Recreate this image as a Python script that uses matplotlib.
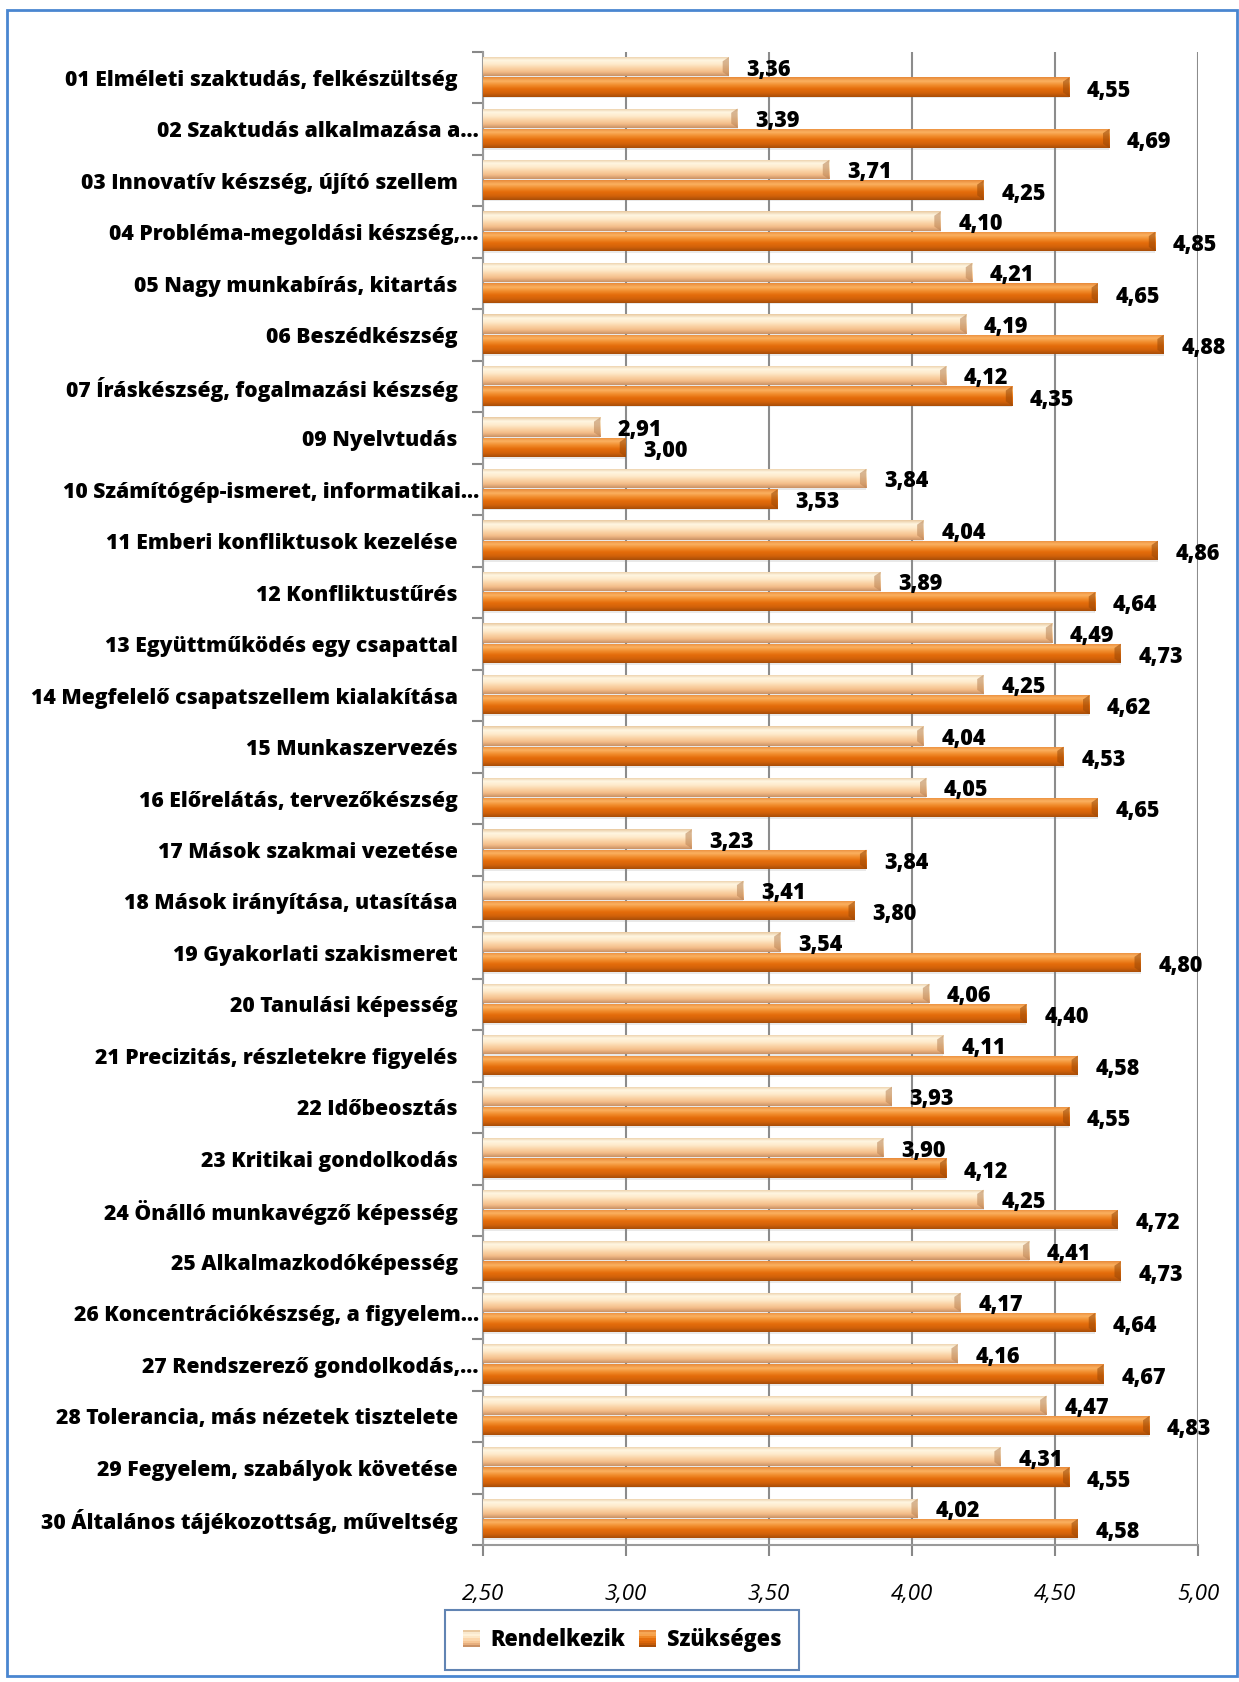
import numpy as np
import matplotlib.pyplot as plt
from matplotlib.colors import LinearSegmentedColormap
from matplotlib.patches import Rectangle, Polygon
from matplotlib.legend_handler import HandlerPatch
from matplotlib.transforms import ScaledTranslation

plt.rcParams['font.family'] = ['Open Sans', 'DejaVu Sans']

categories = [
    "01 Elméleti szaktudás, felkészültség",
    "02 Szaktudás alkalmazása a…",
    "03 Innovatív készség, újító szellem",
    "04 Probléma-megoldási készség,…",
    "05 Nagy munkabírás, kitartás",
    "06 Beszédkészség",
    "07 Íráskészség, fogalmazási készség",
    "09 Nyelvtudás",
    "10 Számítógép-ismeret, informatikai…",
    "11 Emberi konfliktusok kezelése",
    "12 Konfliktustűrés",
    "13 Együttműködés egy csapattal",
    "14 Megfelelő csapatszellem kialakítása",
    "15 Munkaszervezés",
    "16 Előrelátás, tervezőkészség",
    "17 Mások szakmai vezetése",
    "18 Mások irányítása, utasítása",
    "19 Gyakorlati szakismeret",
    "20 Tanulási képesség",
    "21 Precizitás, részletekre figyelés",
    "22 Időbeosztás",
    "23 Kritikai gondolkodás",
    "24 Önálló munkavégző képesség",
    "25 Alkalmazkodóképesség",
    "26 Koncentrációkészség, a figyelem…",
    "27 Rendszerező gondolkodás,…",
    "28 Tolerancia, más nézetek tisztelete",
    "29 Fegyelem, szabályok követése",
    "30 Általános tájékozottság, műveltség",
]
rendelkezik = [3.36, 3.39, 3.71, 4.10, 4.21, 4.19, 4.12, 2.91, 3.84, 4.04,
               3.89, 4.49, 4.25, 4.04, 4.05, 3.23, 3.41, 3.54, 4.06, 4.11,
               3.93, 3.90, 4.25, 4.41, 4.17, 4.16, 4.47, 4.31, 4.02]
szukseges = [4.55, 4.69, 4.25, 4.85, 4.65, 4.88, 4.35, 3.00, 3.53, 4.86,
             4.64, 4.73, 4.62, 4.53, 4.65, 3.84, 3.80, 4.80, 4.40, 4.58,
             4.55, 4.12, 4.72, 4.73, 4.64, 4.67, 4.83, 4.55, 4.58]
xticks = [2.5, 3.0, 3.5, 4.0, 4.5, 5.0]

light_cols = ['#E9C9A0', '#FFF6E2', '#FEEACB', '#FAD3A6', '#F3BC88', '#C99165']
dark_cols = ['#E88A3A', '#FBB160', '#F18C2C', '#E46C0A', '#D2620A', '#A84E08']
light_cmap = LinearSegmentedColormap.from_list('light', light_cols)
dark_cmap = LinearSegmentedColormap.from_list('dark', dark_cols)
grad = np.linspace(0, 1, 64).reshape(-1, 1)

fig = plt.figure(figsize=(12.39, 16.82), dpi=100)
ax = fig.add_axes([483 / 1239, 1 - 1545 / 1682, (1198 - 483) / 1239, (1545 - 52) / 1682])

x0 = xticks[0]
h = 0.375


def gradient_bar(yc, val, cmap, edge):
    bar = ax.barh(yc, val - x0, left=x0, height=h, color='none',
                  edgecolor='none', zorder=3)[0]
    im = ax.imshow(grad, extent=(x0, val, yc + h / 2, yc - h / 2),
                   aspect='auto', cmap=cmap, zorder=3, interpolation='bilinear')
    im.set_clip_path(bar)
    # bevelled right end
    d = 0.022
    ax.add_patch(Polygon([(val - d, yc - h / 2 + h * 0.22), (val, yc - h / 2),
                          (val, yc + h / 2), (val - d, yc + h / 2 - h * 0.22)],
                         closed=True, facecolor=edge, edgecolor='none',
                         alpha=0.55, zorder=4))
    # soft shadow
    ax.add_patch(Rectangle((x0, yc + h / 2), val - x0, 0.035,
                           facecolor='#888888', alpha=0.18, edgecolor='none', zorder=2))


for i, (r, s) in enumerate(zip(rendelkezik, szukseges)):
    gradient_bar(i - 0.215, r, light_cmap, '#B98355')
    gradient_bar(i + 0.18, s, dark_cmap, '#9A4806')
    ax.text(r + 0.062, i - 0.16, f"{r:.2f}".replace('.', ','), ha='left', va='center',
            fontsize=15.5, fontweight=800, zorder=5)
    ax.text(s + 0.062, i + 0.25, f"{s:.2f}".replace('.', ','), ha='left', va='center',
            fontsize=15.5, fontweight=800, zorder=5)

ax.set_xlim(2.5, 5.0)
ax.set_ylim(len(categories) - 0.5, -0.5)
ax.set_xticks(xticks)
ax.set_xticklabels([f"{t:.2f}".replace('.', ',') for t in xticks],
                   fontsize=16, fontstyle='italic')
ax.set_yticks(np.arange(len(categories) + 1) - 0.5, minor=True)
ax.set_yticks(np.arange(len(categories)))
ax.set_yticklabels(categories, fontsize=15.2, fontweight=800)
ax.tick_params(axis='y', which='major', length=0, pad=3)
ax.tick_params(axis='y', which='minor', length=8, color='#888888', width=1.5)
ax.tick_params(axis='x', length=8, color='#888888', width=1.5, pad=20)
ax.grid(axis='x', color='#8C8C8C', linewidth=1.5, zorder=1)
ax.set_axisbelow(True)
for side in ['top', 'right']:
    ax.spines[side].set_visible(False)
for side in ['left', 'bottom']:
    ax.spines[side].set_color('#9A9A9A')
    ax.spines[side].set_linewidth(1.5)

# full (not truncated) labels sit a bit further from the axis
shift = ScaledTranslation(-21 / 100, 0, fig.dpi_scale_trans)
for lab in ax.get_yticklabels():
    if not lab.get_text().endswith('…'):
        lab.set_transform(lab.get_transform() + shift)


class GradHandler(HandlerPatch):
    def __init__(self, cmap):
        super().__init__()
        self.cmap = cmap

    def create_artists(self, legend, orig_handle, xdescent, ydescent, width,
                       height, fontsize, trans):
        s = 12
        cx = width / 2 - xdescent
        cy = height / 2 - ydescent
        arts = []
        n = 8
        for k in range(n):
            c = self.cmap(k / (n - 1))
            p = Rectangle((cx - s / 2, cy + s / 2 - (k + 1) * s / n), s, s / n,
                          facecolor=c, edgecolor='none', transform=trans)
            arts.append(p)
        return arts


h1 = Rectangle((0, 0), 1, 1, facecolor='#F9CB97')
h2 = Rectangle((0, 0), 1, 1, facecolor='#E46C0A')
leg = fig.legend([h1, h2], ['Rendelkezik', 'Szükséges'], ncol=2,
                 loc='center', bbox_to_anchor=(622 / 1239, 1 - 1640 / 1682),
                 prop={'size': 15.5, 'weight': 800}, frameon=True, fancybox=False,
                 handlelength=0.8, handletextpad=0.5, columnspacing=0.6,
                 borderpad=0.85,
                 handler_map={h1: GradHandler(light_cmap), h2: GradHandler(dark_cmap)})
leg.get_frame().set_edgecolor('#3A66A0')
leg.get_frame().set_linewidth(1.5)

fig.patches.append(Rectangle((7 / 1239, 1 - 1676 / 1682), 1230 / 1239, 1666 / 1682,
                             transform=fig.transFigure, fill=False,
                             edgecolor='#4A86D0', linewidth=2))

fig.savefig('out.png', dpi=100)
